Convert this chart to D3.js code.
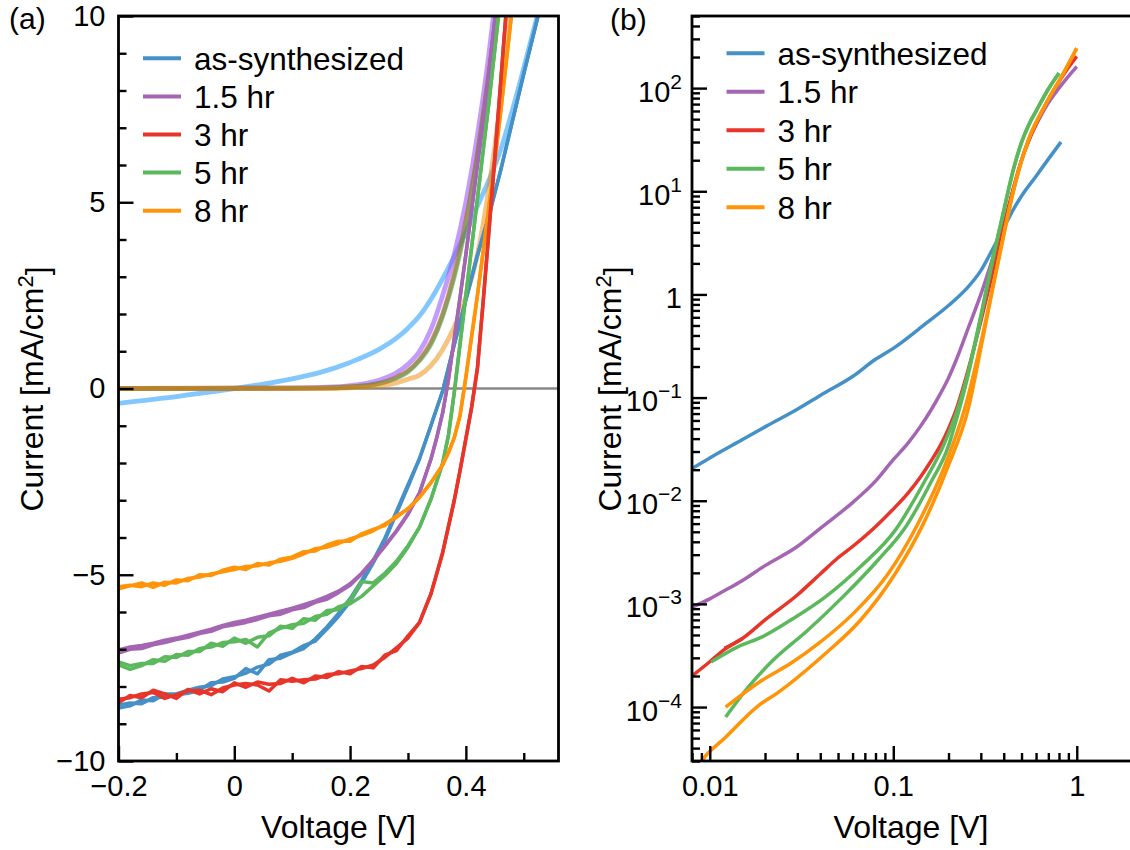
<!DOCTYPE html>
<html>
<head>
<meta charset="utf-8">
<script src="https://cdn.jsdelivr.net/npm/d3@7"></script>
<style>
  body { margin: 0; background: #fff; }
  svg { display: block; }
  text { font-family: "Liberation Sans", Arial, Helvetica, sans-serif; fill: #000; }
</style>
</head>
<body>
<svg id="chart" width="1130" height="850"></svg>
<script>
// ---------------- data ----------------
const seriesNames = ["as-synthesized", "1.5 hr", "3 hr", "5 hr", "8 hr"];

// (a) illuminated J-V scans, [voltage V, current mA/cm2]; two scans share the rising branch
const blueScanF = [[-0.20,-8.50],[-0.18,-8.44],[-0.16,-8.46],[-0.14,-8.30],[-0.12,-8.28],[-0.10,-8.22],[-0.08,-8.18],[-0.06,-8.10],[-0.04,-7.90],[-0.02,-7.88],[0.00,-7.78],[0.02,-7.52],[0.04,-7.66],[0.06,-7.28],[0.08,-7.24],[0.10,-7.10],[0.12,-6.98],[0.14,-6.72],[0.16,-6.40],[0.18,-6.04],[0.20,-5.64],[0.22,-5.15],[0.24,-4.62],[0.26,-4.02],[0.28,-3.30],[0.30,-2.58]];
const blueScanR = [[-0.20,-8.58],[-0.18,-8.52],[-0.16,-8.36],[-0.14,-8.38],[-0.12,-8.20],[-0.10,-8.20],[-0.08,-8.10],[-0.06,-8.02],[-0.04,-7.98],[-0.02,-7.80],[0.00,-7.74],[0.02,-7.64],[0.04,-7.48],[0.06,-7.40],[0.08,-7.16],[0.10,-7.08],[0.12,-6.90],[0.14,-6.78],[0.16,-6.46],[0.18,-6.12],[0.20,-5.72],[0.22,-5.22],[0.24,-4.68],[0.26,-4.08],[0.28,-3.36],[0.30,-2.64]];
const blueRise = [[0.32,-1.88],[0.34,-0.98],[0.36,-0.06],[0.38,1.18],[0.40,2.38],[0.42,3.58],[0.44,4.65],[0.46,5.85],[0.48,7.15],[0.50,8.45],[0.52,9.70],[0.54,11.0]];

const purpleScanF = [[-0.20,-7.10],[-0.18,-7.00],[-0.16,-6.98],[-0.14,-6.88],[-0.12,-6.82],[-0.10,-6.74],[-0.08,-6.68],[-0.06,-6.58],[-0.04,-6.52],[-0.02,-6.40],[0.00,-6.34],[0.02,-6.28],[0.04,-6.20],[0.06,-6.10],[0.08,-6.06],[0.10,-5.94],[0.12,-5.88],[0.14,-5.74],[0.16,-5.66],[0.18,-5.48],[0.20,-5.28],[0.22,-4.98],[0.24,-4.62],[0.26,-4.24],[0.28,-3.84],[0.30,-3.38]];
const purpleScanR = [[-0.20,-7.02],[-0.18,-6.94],[-0.16,-6.90],[-0.14,-6.84],[-0.12,-6.76],[-0.10,-6.70],[-0.08,-6.62],[-0.06,-6.54],[-0.04,-6.46],[-0.02,-6.36],[0.00,-6.28],[0.02,-6.22],[0.04,-6.14],[0.06,-6.06],[0.08,-5.98],[0.10,-5.90],[0.12,-5.80],[0.14,-5.70],[0.16,-5.58],[0.18,-5.44],[0.20,-5.24],[0.22,-4.96],[0.24,-4.60],[0.26,-4.22],[0.28,-3.82],[0.30,-3.36]];
const purpleRise = [[0.32,-2.80],[0.34,-1.88],[0.35,-1.30],[0.36,-0.65],[0.37,0.25],[0.38,1.35],[0.39,2.45],[0.40,3.60],[0.41,4.80],[0.42,6.00],[0.43,7.20],[0.44,8.50],[0.45,9.90],[0.46,11.3]];

const redScanF = [[-0.20,-8.34],[-0.18,-8.30],[-0.16,-8.20],[-0.14,-8.16],[-0.12,-8.32],[-0.10,-8.22],[-0.08,-8.12],[-0.06,-8.10],[-0.04,-8.22],[-0.02,-8.04],[0.00,-7.96],[0.02,-7.92],[0.04,-7.96],[0.06,-8.12],[0.08,-7.82],[0.10,-7.86],[0.12,-7.82],[0.14,-7.80],[0.16,-7.68],[0.18,-7.66],[0.20,-7.58],[0.22,-7.52],[0.24,-7.42],[0.26,-7.22],[0.28,-6.96],[0.30,-6.70]];
const redScanR = [[-0.20,-8.44],[-0.18,-8.24],[-0.16,-8.30],[-0.14,-8.10],[-0.12,-8.20],[-0.10,-8.32],[-0.08,-8.08],[-0.06,-8.20],[-0.04,-8.06],[-0.02,-8.14],[0.00,-7.90],[0.02,-8.02],[0.04,-7.88],[0.06,-7.94],[0.08,-7.92],[0.10,-7.78],[0.12,-7.90],[0.14,-7.72],[0.16,-7.76],[0.18,-7.60],[0.20,-7.66],[0.22,-7.46],[0.24,-7.50],[0.26,-7.16],[0.28,-7.04],[0.30,-6.64]];
const redRise = [[0.32,-6.28],[0.34,-5.50],[0.36,-4.40],[0.38,-3.00],[0.39,-2.20],[0.40,-1.35],[0.41,-0.50],[0.42,0.55],[0.43,2.35],[0.44,4.25],[0.45,6.20],[0.46,8.20],[0.47,10.2]];

const greenScanF = [[-0.20,-7.42],[-0.18,-7.54],[-0.16,-7.44],[-0.14,-7.28],[-0.12,-7.32],[-0.10,-7.14],[-0.08,-7.16],[-0.06,-6.98],[-0.04,-6.94],[-0.02,-6.82],[0.00,-6.80],[0.02,-6.74],[0.04,-6.94],[0.06,-6.56],[0.08,-6.44],[0.10,-6.34],[0.12,-6.30],[0.14,-6.12],[0.16,-6.06],[0.18,-5.86],[0.20,-5.78],[0.22,-5.58],[0.24,-5.30],[0.26,-5.02],[0.28,-4.70],[0.30,-4.26]];
const greenScanR = [[-0.20,-7.34],[-0.18,-7.44],[-0.16,-7.38],[-0.14,-7.38],[-0.12,-7.20],[-0.10,-7.22],[-0.08,-7.06],[-0.06,-7.06],[-0.04,-6.84],[-0.02,-6.92],[0.00,-6.70],[0.02,-6.84],[0.04,-6.68],[0.06,-6.64],[0.08,-6.38],[0.10,-6.44],[0.12,-6.18],[0.14,-6.22],[0.16,-5.96],[0.18,-5.94],[0.20,-5.68],[0.22,-5.18],[0.24,-5.22],[0.26,-4.96],[0.28,-4.64],[0.30,-4.22]];
const greenRise = [[0.32,-3.72],[0.34,-2.96],[0.36,-2.00],[0.37,-1.25],[0.38,-0.10],[0.39,1.20],[0.40,2.50],[0.41,3.80],[0.42,5.10],[0.43,6.40],[0.44,7.70],[0.45,9.10],[0.46,10.5]];

const orangeScanF = [[-0.20,-5.38],[-0.18,-5.30],[-0.16,-5.22],[-0.14,-5.34],[-0.12,-5.20],[-0.10,-5.22],[-0.08,-5.10],[-0.06,-5.06],[-0.04,-4.98],[-0.02,-4.92],[0.00,-4.86],[0.02,-4.78],[0.04,-4.76],[0.06,-4.68],[0.08,-4.64],[0.10,-4.56],[0.12,-4.44],[0.14,-4.30],[0.16,-4.26],[0.18,-4.16],[0.20,-4.04],[0.22,-3.94],[0.24,-3.82],[0.26,-3.64],[0.28,-3.46],[0.30,-3.22]];
const orangeScanR = [[-0.20,-5.32],[-0.18,-5.28],[-0.16,-5.32],[-0.14,-5.22],[-0.12,-5.28],[-0.10,-5.14],[-0.08,-5.16],[-0.06,-5.00],[-0.04,-5.02],[-0.02,-4.88],[0.00,-4.80],[0.02,-4.86],[0.04,-4.70],[0.06,-4.74],[0.08,-4.58],[0.10,-4.52],[0.12,-4.38],[0.14,-4.36],[0.16,-4.20],[0.18,-4.10],[0.20,-4.10],[0.22,-3.90],[0.24,-3.78],[0.26,-3.68],[0.28,-3.42],[0.30,-3.24]];
const orangeRise = [[0.32,-2.92],[0.34,-2.52],[0.36,-2.05],[0.37,-1.72],[0.38,-1.32],[0.39,-0.72],[0.40,0.30],[0.41,1.40],[0.42,2.50],[0.43,3.70],[0.44,4.90],[0.45,6.10],[0.46,7.40],[0.47,8.80],[0.48,10.2]];

// (a) dark J-V scans
const darkBlue   = [[-0.20,-0.40],[-0.15,-0.31],[-0.10,-0.22],[-0.05,-0.11],[0.00,0.00],[0.05,0.12],[0.10,0.26],[0.15,0.44],[0.20,0.70],[0.25,1.05],[0.28,1.35],[0.30,1.62],[0.32,1.95],[0.34,2.40],[0.36,2.95],[0.38,3.55],[0.40,4.20],[0.42,4.90],[0.44,5.60],[0.46,6.40],[0.48,7.45],[0.50,8.60],[0.53,10.4]];
const darkPurple = [[-0.20,0.00],[0.10,0.01],[0.15,0.03],[0.20,0.08],[0.25,0.22],[0.28,0.42],[0.30,0.65],[0.32,1.00],[0.34,1.60],[0.36,2.50],[0.38,3.60],[0.40,5.00],[0.42,6.80],[0.44,9.00],[0.45,10.3]];
const darkRed    = [[-0.20,0.00],[0.15,0.01],[0.20,0.04],[0.25,0.14],[0.28,0.30],[0.30,0.48],[0.32,0.78],[0.34,1.25],[0.36,2.00],[0.38,3.10],[0.40,4.50],[0.42,6.30],[0.44,8.50],[0.455,10.3]];
const darkGreen  = [[-0.20,0.00],[0.15,0.01],[0.20,0.04],[0.25,0.13],[0.28,0.28],[0.30,0.45],[0.32,0.75],[0.34,1.20],[0.36,1.95],[0.38,3.00],[0.40,4.40],[0.42,6.20],[0.44,8.40],[0.455,10.2]];
const darkOrange = [[-0.20,0.00],[0.15,0.005],[0.20,0.02],[0.25,0.07],[0.28,0.15],[0.30,0.25],[0.32,0.36],[0.34,0.62],[0.36,1.05],[0.38,1.65],[0.40,2.45],[0.42,3.60],[0.44,5.40],[0.46,7.80],[0.475,10.4]];

// (b) forward-bias dark current, log-log
const logBlue    = [[0.008,0.0205],[0.01,0.026],[0.015,0.039],[0.02,0.052],[0.03,0.077],[0.04,0.105],[0.06,0.16],[0.08,0.235],[0.1,0.30],[0.15,0.52],[0.2,0.78],[0.25,1.13],[0.3,1.70],[0.35,2.80],[0.4,4.40],[0.45,6.60],[0.5,9.0],[0.6,14.0],[0.7,20.5],[0.82,30.0]];
const logPurple  = [[0.008,9.3e-4],[0.01,1.12e-3],[0.012,1.34e-3],[0.015,1.68e-3],[0.02,2.35e-3],[0.03,3.6e-3],[0.04,5.4e-3],[0.06,9.6e-3],[0.08,0.0155],[0.1,0.025],[0.12,0.036],[0.14,0.052],[0.16,0.075],[0.18,0.108],[0.2,0.155],[0.22,0.23],[0.25,0.42],[0.3,1.0],[0.35,2.3],[0.4,4.8],[0.45,10.0],[0.5,20.0],[0.55,32.0],[0.6,44.0],[0.7,72.0],[0.8,100],[0.9,130],[1.0,162]];
const logRedStart = [[0.008,2.0e-4],[0.01,2.75e-4],[0.012,3.6e-4],[0.015,4.6e-4]];
const logRed     = [[0.012,3.7e-4],[0.015,4.6e-4],[0.02,7.0e-4],[0.03,1.22e-3],[0.04,1.95e-3],[0.05,2.8e-3],[0.06,3.6e-3],[0.08,5.6e-3],[0.1,8.3e-3],[0.12,0.0118],[0.14,0.0168],[0.16,0.024],[0.18,0.034],[0.2,0.050],[0.22,0.076],[0.25,0.16],[0.3,0.55],[0.35,1.7],[0.4,4.5],[0.45,10.5],[0.5,20.0],[0.6,45.0],[0.7,78.0],[0.8,115],[0.9,158],[1.0,203]];
const logGreenA  = [[0.0102,2.74e-4],[0.0142,3.83e-4],[0.0193,4.79e-4],[0.0275,6.94e-4],[0.0427,1.17e-3],[0.0662,2.29e-3],[0.1026,5.19e-3],[0.146,0.0147],[0.19,0.036],[0.22,0.070],[0.25,0.15],[0.3,0.62],[0.35,2.3],[0.4,6.5],[0.45,16.0],[0.5,30.0],[0.55,45.0],[0.6,60.0],[0.7,98.0],[0.8,140]];
const logGreenB  = [[0.0122,8.0e-5],[0.0162,1.56e-4],[0.0221,2.84e-4],[0.0342,5.55e-4],[0.0531,1.17e-3],[0.0824,2.65e-3],[0.117,5.6e-3],[0.159,0.0147],[0.2,0.034],[0.22,0.060],[0.25,0.14],[0.3,0.60],[0.35,2.25],[0.4,6.4],[0.45,15.8],[0.5,29.6],[0.55,44.6],[0.6,59.6],[0.7,97.4],[0.8,139]];
const logOrangeA = [[0.0122,1.0e-4],[0.0193,1.82e-4],[0.0275,2.64e-4],[0.039,4.12e-4],[0.0605,8.05e-4],[0.094,1.97e-3],[0.1336,5.6e-3],[0.19,0.0214],[0.247,0.0818],[0.294,0.288],[0.352,1.28],[0.401,3.9],[0.457,11.1],[0.545,31.5],[0.68,71.0],[0.846,140],[1.0,244]];
const logOrangeB = [[0.0085,2.6e-5],[0.0092,3.15e-5],[0.0122,5.1e-5],[0.0185,1.04e-4],[0.0231,1.35e-4],[0.0427,3.3e-4],[0.0662,6.94e-4],[0.1026,1.97e-3],[0.146,6.0e-3],[0.1986,0.0214],[0.258,0.0818],[0.30,0.30],[0.352,1.25],[0.401,3.85],[0.457,11.0],[0.545,31.3],[0.68,70.5],[0.846,139],[1.0,243]];

// tick values
const ticksAx = [-0.2, 0, 0.2, 0.4];
const ticksAy = [-10, -5, 0, 5, 10];
const ticksBx = [0.01, 0.1, 1];
const ticksBy = [1e-4, 1e-3, 1e-2, 1e-1, 1, 10, 100];

// ---------------- styles ----------------
const lineColors = ["#4591c7", "#a466b3", "#e8352a", "#5cb85c", "#ff9408"];
const darkColors = ["#5ab4ff", "#965aff", "#ff3b2f", "#3aa13a", "#eb8705"];
const darkOpacity = [0.75, 0.6, 0.55, 0.55, 0.5];

const svg = d3.select("#chart");
const A = { left: 118.5, right: 558.5, top: 16, bottom: 761 };
const B = { left: 692, right: 1132, top: 16, bottom: 761 };

const xA = d3.scaleLinear().domain([-0.2, 0.56]).range([A.left, A.right]);
const yA = d3.scaleLinear().domain([-10, 10]).range([A.bottom, A.top]);
const xB = d3.scaleLog().domain([0.008, 2]).range([B.left, B.right]);
const yB = d3.scaleLog().domain([3e-5, 500]).range([B.bottom, B.top]);

const defs = svg.append("defs");
defs.append("clipPath").attr("id", "clipA").append("rect")
  .attr("x", A.left).attr("y", A.top).attr("width", A.right - A.left).attr("height", A.bottom - A.top);
defs.append("clipPath").attr("id", "clipB").append("rect")
  .attr("x", B.left).attr("y", B.top).attr("width", B.right - B.left).attr("height", B.bottom - B.top);

const FONT_TICK = 29, FONT_LABEL = 32, FONT_LEGEND = 31.5, FONT_PANEL = 30;
const LW = 3.5;

// ---------- panel (a) ----------
const plotA = svg.append("g").attr("clip-path", "url(#clipA)");
plotA.append("line")
  .attr("x1", xA(-0.2)).attr("x2", xA(0.56)).attr("y1", yA(0)).attr("y2", yA(0))
  .attr("stroke", "#888").attr("stroke-width", 2.6);

const lineA = d3.line().x(d => xA(d[0])).y(d => yA(d[1]));
const smoothA = d3.line().x(d => xA(d[0])).y(d => yA(d[1])).curve(d3.curveMonotoneX);

const darkSets = [darkBlue, darkPurple, darkRed, darkGreen, darkOrange];
darkSets.forEach((d, i) => {
  plotA.append("path").datum(d).attr("d", smoothA)
    .attr("fill", "none").attr("stroke", darkColors[i]).attr("stroke-opacity", darkOpacity[i])
    .attr("stroke-width", 4.8);
});

const illumSets = [
  [blueScanF, blueScanR, blueRise],
  [purpleScanF, purpleScanR, purpleRise],
  [redScanF, redScanR, redRise],
  [greenScanF, greenScanR, greenRise],
  [orangeScanF, orangeScanR, orangeRise]
];
[0, 1, 3, 4, 2].forEach(i => {
  const [f, r, rise] = illumSets[i];
  [f, r].forEach(scan => {
    plotA.append("path").datum(scan.concat(rise)).attr("d", lineA)
      .attr("fill", "none").attr("stroke", lineColors[i]).attr("stroke-width", LW)
      .attr("stroke-linejoin", "round");
  });
});

// ---------- panel (b) ----------
const plotB = svg.append("g").attr("clip-path", "url(#clipB)");
const lineB = d3.line().x(d => xB(d[0])).y(d => yB(d[1])).curve(d3.curveMonotoneX);
const logSets = [
  [0, [logBlue]],
  [1, [logPurple]],
  [2, [logRedStart, logRed]],
  [3, [logGreenA, logGreenB]],
  [4, [logOrangeA, logOrangeB]]
];
logSets.forEach(([i, traces]) => {
  traces.forEach(t => {
    plotB.append("path").datum(t).attr("d", lineB)
      .attr("fill", "none").attr("stroke", lineColors[i]).attr("stroke-width", LW);
  });
});

// ---------- axes ----------
function styleAxis(g, fontSize) {
  g.select(".domain").remove();
  g.selectAll(".tick line").attr("stroke", "#000").attr("stroke-width", 2.4);
  g.selectAll(".tick text").attr("font-size", fontSize).attr("fill", "#000")
    .attr("font-family", '"Liberation Sans", Arial, Helvetica, sans-serif');
}
const minus = s => s.replace("-", "\u2212");
const fmtA = d => d === 0 ? "0" : minus(String(d));

// panel (a) axes
svg.append("g").attr("transform", `translate(0,${A.bottom})`)
  .call(d3.axisBottom(xA).tickValues([-0.1, 0.1, 0.3, 0.5]).tickSize(-8).tickFormat(""))
  .call(g => styleAxis(g, FONT_TICK));
svg.append("g").attr("transform", `translate(0,${A.bottom})`)
  .call(d3.axisBottom(xA).tickValues(ticksAx).tickSize(-15).tickPadding(14).tickFormat(d => d === 0 ? "0" : minus(d3.format(".1f")(d))))
  .call(g => styleAxis(g, FONT_TICK));
svg.append("g").attr("transform", `translate(${A.left},0)`)
  .call(d3.axisLeft(yA).tickValues(d3.range(-9, 10, 1).filter(v => v % 5 !== 0)).tickSize(-8).tickFormat(""))
  .call(g => styleAxis(g, FONT_TICK));
svg.append("g").attr("transform", `translate(${A.left},0)`)
  .call(d3.axisLeft(yA).tickValues(ticksAy).tickSize(-15).tickPadding(13).tickFormat(fmtA))
  .call(g => styleAxis(g, FONT_TICK));

// panel (b) axes: minor ticks on every 2..9 multiple
function logMinors(domain) {
  const out = [];
  for (let e = -6; e <= 3; e++) {
    for (let m = 2; m <= 9; m++) {
      const v = m * Math.pow(10, e);
      if (v >= domain[0] * 0.999 && v <= domain[1] * 1.001) out.push(v);
    }
  }
  return out;
}
svg.append("g").attr("transform", `translate(0,${B.bottom})`)
  .call(d3.axisBottom(xB).tickValues(logMinors(xB.domain())).tickSize(-8).tickFormat(""))
  .call(g => styleAxis(g, FONT_TICK));
svg.append("g").attr("transform", `translate(0,${B.bottom})`)
  .call(d3.axisBottom(xB).tickValues(ticksBx).tickSize(-15).tickPadding(14).tickFormat(d => String(d)))
  .call(g => styleAxis(g, FONT_TICK));
svg.append("g").attr("transform", `translate(${B.left},0)`)
  .call(d3.axisLeft(yB).tickValues(logMinors(yB.domain())).tickSize(-8).tickFormat(""))
  .call(g => styleAxis(g, FONT_TICK));
svg.append("g").attr("transform", `translate(${B.left},0)`)
  .call(d3.axisLeft(yB).tickValues(ticksBy).tickSize(-15).tickPadding(10).tickFormat(""))
  .call(g => styleAxis(g, FONT_TICK))
  .call(g => g.selectAll(".tick text").each(function (d) {
    const t = d3.select(this);
    const e = Math.round(Math.log10(d));
    t.attr("dy", "0.45em");
    if (e === 0) { t.text("1"); return; }
    t.text("10");
    t.append("tspan").attr("dy", "-0.62em").attr("font-size", 21).text(e < 0 ? "\u2212" + (-e) : String(e));
  }));

// frames
svg.append("rect").attr("x", A.left).attr("y", A.top).attr("width", A.right - A.left).attr("height", A.bottom - A.top)
  .attr("fill", "none").attr("stroke", "#000").attr("stroke-width", 2.8);
svg.append("rect").attr("x", B.left).attr("y", B.top).attr("width", B.right - B.left).attr("height", B.bottom - B.top)
  .attr("fill", "none").attr("stroke", "#000").attr("stroke-width", 2.8);

// ---------- labels ----------
function currentLabel(x, y) {
  const t = svg.append("text").attr("transform", `translate(${x},${y}) rotate(-90)`)
    .attr("text-anchor", "middle").attr("font-size", FONT_LABEL);
  t.append("tspan").text("Current [mA/cm");
  t.append("tspan").attr("dy", "-0.45em").attr("font-size", 22).text("2");
  t.append("tspan").attr("dy", "0.45em").text("]");
}
currentLabel(43, 389);
currentLabel(621, 389);

svg.append("text").attr("x", (A.left + A.right) / 2).attr("y", 838).attr("text-anchor", "middle")
  .attr("font-size", FONT_LABEL).text("Voltage [V]");
svg.append("text").attr("x", (B.left + 1130) / 2).attr("y", 838).attr("text-anchor", "middle")
  .attr("font-size", FONT_LABEL).text("Voltage [V]");

svg.append("text").attr("x", 9).attr("y", 29).attr("font-size", FONT_PANEL).text("(a)");
svg.append("text").attr("x", 610).attr("y", 30).attr("font-size", FONT_PANEL).text("(b)");

// ---------- legends ----------
function legend(x0, y0, pitch) {
  seriesNames.forEach((name, i) => {
    const y = y0 + i * pitch;
    svg.append("line").attr("x1", x0).attr("x2", x0 + 38).attr("y1", y).attr("y2", y)
      .attr("stroke", lineColors[i]).attr("stroke-width", 4);
    svg.append("text").attr("x", x0 + 51).attr("y", y).attr("dy", "0.36em")
      .attr("font-size", FONT_LEGEND).text(name);
  });
}
legend(143, 58.3, 38.1);
legend(726.5, 53.3, 38.5);
</script>
</body>
</html>
